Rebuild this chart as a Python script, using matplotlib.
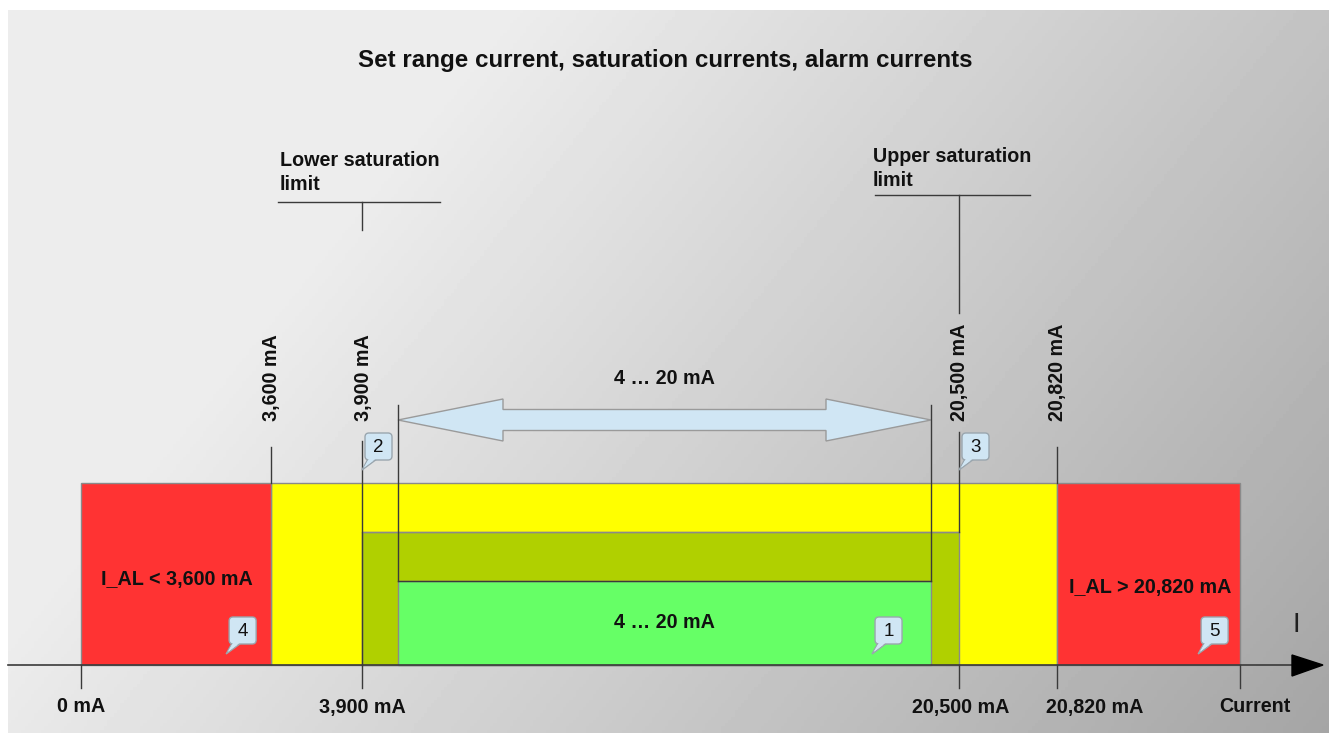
import numpy as np
from matplotlib import pyplot as plt
from matplotlib.patches import Rectangle, Polygon, FancyBboxPatch

plt.rcParams['font.family'] = ['Liberation Sans', 'DejaVu Sans']

#%% data

title = 'Set range current, saturation currents, alarm currents'

# current values (mA) that appear on the diagram, with the schematic x position
# (pixels) they are drawn at -- the diagram is not to scale
currents = [0.0, 3.6, 3.9, 4.0, 20.0, 20.5, 20.82, 22.0]
x_pos = [81, 271, 362, 398, 931, 959, 1057, 1240]

bottom_ticks = [0.0, 3.9, 20.5, 20.82, 22.0]
bottom_labels = ['0 mA', '3,900 mA', '20,500 mA', '20,820 mA', 'Current']
bottom_offset = [0, 0, 2, 38, 15]

top_ticks = [3.6, 3.9, 20.5, 20.82]
top_labels = ['3,600 mA', '3,900 mA', '20,500 mA', '20,820 mA']

alarm_low = (0.0, 3.6)
alarm_high = (20.82, 22.0)
saturation = (3.6, 20.82)
sat_limits = (3.9, 20.5)
set_range = (4.0, 20.0)

alarm_low_label = 'I_AL < 3,600 mA'
alarm_high_label = 'I_AL > 20,820 mA'
range_label = '4 \u2026 20 mA'

callout_ids = ['1', '2', '3', '4', '5']
callout_at = [18.23, 3.9, 20.5, 2.75, 21.73]


def X(c):
	return np.interp(c, currents, x_pos)


#%% figure

W, H = 1329, 733
fig = plt.figure(figsize=(W / 100, H / 100), dpi=100)
ax = fig.add_axes([0, 0, 1, 1])
ax.set_xlim(0, W)
ax.set_ylim(H, 0)
ax.set_axis_off()

# grey gradient background panel
gx, gy = np.meshgrid(np.linspace(0, 1, 400), np.linspace(0, 1, 220))
t = np.clip((0.8 * gx + 0.35 * gy - 0.3) / 0.85, 0, 1)
grad = (237 - 72 * t) / 255.0
ax.imshow(grad, cmap='gray', vmin=0, vmax=1, extent=[8, W, H, 10], aspect='auto', zorder=0)

line_col = '#3a3a3a'
edge_col = '#8a8a8a'

y_axis = 665
y_top = 483
y_sat = 532
y_rng = 581

# bands
ax.add_patch(Rectangle((X(saturation[0]), y_top), X(saturation[1]) - X(saturation[0]), y_axis - y_top,
					   fc='#ffff00', ec=edge_col, lw=1, zorder=2))
for lo, hi in [alarm_low, alarm_high]:
	ax.add_patch(Rectangle((X(lo), y_top), X(hi) - X(lo), y_axis - y_top,
						   fc='#ff3333', ec=edge_col, lw=1, zorder=2))
ax.add_patch(Rectangle((X(sat_limits[0]), y_sat), X(sat_limits[1]) - X(sat_limits[0]), y_axis - y_sat,
					   fc='#b0d000', ec=edge_col, lw=1, zorder=3))
ax.add_patch(Rectangle((X(set_range[0]), y_rng), X(set_range[1]) - X(set_range[0]), y_axis - y_rng,
					   fc='#66ff66', ec=edge_col, lw=1, zorder=4))

# outline lines of the saturation and set range
ax.plot([X(sat_limits[0]), X(sat_limits[1])], [y_sat, y_sat], color=edge_col, lw=1, zorder=5)
ax.plot([X(set_range[0]), X(set_range[1])], [y_rng, y_rng], color=line_col, lw=1, zorder=5)
for c in set_range:
	ax.plot([X(c), X(c)], [405, y_rng], color=line_col, lw=1, zorder=5)
ax.plot([X(sat_limits[0])] * 2, [441, y_axis], color=line_col, lw=1, zorder=5)
ax.plot([X(sat_limits[1])] * 2, [432, y_sat], color=line_col, lw=1, zorder=5)
for c in [alarm_low[1], alarm_high[0]]:
	ax.plot([X(c), X(c)], [447, y_top], color=line_col, lw=1, zorder=5)

# current axis
ax.plot([8, 1294], [y_axis, y_axis], color=line_col, lw=1.2, zorder=6)
ax.add_patch(Polygon([[1292, 655], [1323, y_axis], [1292, 676]], closed=True, fc='k', ec='k', zorder=6))
ax.text(1296, 625, 'I', fontsize=20, ha='center', va='center', color='#202020', zorder=6)

text_options = {'fontsize': 14.2, 'fontweight': 'bold', 'color': '#111111'}

for c, lab, off in zip(bottom_ticks, bottom_labels, bottom_offset):
	ax.plot([X(c), X(c)], [y_axis, 688], color=line_col, lw=1, zorder=6)
	ax.text(X(c) + off, 707, lab, ha='center', va='center', **text_options)

for c, lab in zip(top_ticks, top_labels):
	ax.text(X(c) + 1, 421, lab, rotation=90, rotation_mode='anchor', ha='left', va='center',
			**text_options)

# saturation limit brackets
ax.plot([278, 440], [202, 202], color=line_col, lw=1)
ax.plot([X(sat_limits[0])] * 2, [202, 230], color=line_col, lw=1)
ax.text(280, 151, 'Lower saturation\nlimit', ha='left', va='top', linespacing=1.3, **text_options)
ax.plot([875, 1030], [195, 195], color=line_col, lw=1)
ax.plot([X(sat_limits[1])] * 2, [195, 313], color=line_col, lw=1)
ax.text(873, 147, 'Upper saturation\nlimit', ha='left', va='top', linespacing=1.3, **text_options)

# double arrow 4 ... 20 mA
x0, x1 = X(set_range[0]), X(set_range[1])
cy, sh, hh, hl = 420, 10.5, 21, 105
arrow = [[x0, cy], [x0 + hl, cy - hh], [x0 + hl, cy - sh], [x1 - hl, cy - sh], [x1 - hl, cy - hh],
		 [x1, cy], [x1 - hl, cy + hh], [x1 - hl, cy + sh], [x0 + hl, cy + sh], [x0 + hl, cy + hh]]
ax.add_patch(Polygon(arrow, closed=True, fc='#d0e6f4', ec='#9a9a9a', lw=1, zorder=4))
ax.text((x0 + x1) / 2, 378, range_label, ha='center', va='center', **text_options)

# zone labels
ax.text((x0 + x1) / 2, 623, range_label, ha='center', va='center', zorder=7, **text_options)
ax.text(177, 580, alarm_low_label, ha='center', va='center', zorder=7, **text_options)
ax.text(1150, 587, alarm_high_label, ha='center', va='center', zorder=7, **text_options)

# numbered callouts
for cid, c in zip(callout_ids, callout_at):
	if cid in ('2', '3'):
		bx, by = X(c) + 3, 433
	else:
		bx, by = X(c) + 3, 617
	bw, bh = 27, 27
	tail = [[bx + 3, by + bh - 1], [X(c), by + bh + 10], [bx + 12, by + bh - 1]]
	ax.add_patch(Polygon(tail, closed=True, fc='#d0e6f4', ec='#9aa6ae', lw=1, zorder=8))
	ax.add_patch(FancyBboxPatch((bx, by), bw, bh, boxstyle='round,pad=0,rounding_size=4',
								fc='#d0e6f4', ec='#9aa6ae', lw=1, zorder=8))
	ax.add_patch(Polygon([[bx + 4, by + bh - 1.5], [X(c) + 1.5, by + bh + 8], [bx + 11, by + bh - 1.5]],
						 closed=True, fc='#d0e6f4', ec='none', zorder=9))
	ax.text(bx + bw / 2, by + bh / 2 + 1, cid, ha='center', va='center', fontsize=13.5, color='#111111', zorder=10)

ax.text(665, 60, title, ha='center', va='center', fontsize=17.4, fontweight='bold', color='#111111')

plt.savefig('out.png', dpi=100)
plt.close()
